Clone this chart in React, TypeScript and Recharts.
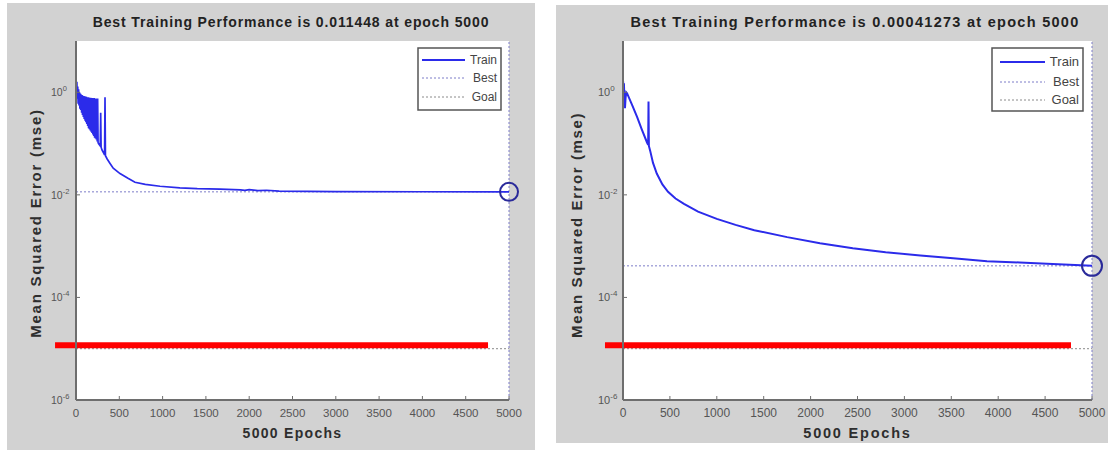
import React from 'react';
import { LineChart, Line, XAxis, YAxis, CartesianGrid, ReferenceLine, ReferenceDot, Legend, Label } from 'recharts';

// ---------- data ----------
const xTicks = [0, 500, 1000, 1500, 2000, 2500, 3000, 3500, 4000, 4500, 5000];
const yTicks = [1e-6, 1e-4, 1e-2, 1];
const legendNames = ['Train', 'Best', 'Goal'];
const xLabel = '5000 Epochs';
const yLabel = 'Mean Squared Error  (mse)';

const leftTitle = 'Best Training Performance is 0.011448 at epoch 5000';
const rightTitle = 'Best Training Performance is 0.00041273 at epoch 5000';

const leftEpochs = [
  0, 5, 10, 15, 20, 25, 30, 35, 40, 45, 50, 55, 60, 65, 70, 75, 80, 85, 90, 95,
  100, 105, 110, 115, 120, 125, 130, 135, 140, 145, 150, 155, 160, 165, 170, 175, 180, 185, 190, 195,
  200, 205, 210, 215, 220, 225, 230, 235, 240, 245, 250, 255, 260, 270, 280, 285, 290, 300, 310, 320,
  330, 335, 340, 360, 393, 430, 508, 600, 681, 800, 970, 1200, 1400, 1663, 1900, 1950, 2000, 2100,
  2200, 2345, 3000, 4000, 5000,
];
const leftMse = [
  1.87, 1.2, 1.6, 0.75, 1.3, 0.6, 1.15, 0.55, 1.0, 0.48, 0.95, 0.45, 0.9, 0.4, 0.88, 0.36, 0.86, 0.33, 0.85, 0.3,
  0.84, 0.28, 0.83, 0.26, 0.82, 0.24, 0.8, 0.22, 0.8, 0.2, 0.79, 0.19, 0.6, 0.18, 0.78, 0.17, 0.5, 0.16, 0.77, 0.15,
  0.45, 0.14, 0.77, 0.13, 0.4, 0.125, 0.76, 0.12, 0.35, 0.11, 0.76, 0.105, 0.1, 0.095, 0.09, 0.4, 0.085, 0.075, 0.07, 0.065,
  0.06, 0.8, 0.058, 0.05, 0.041, 0.033, 0.026, 0.021, 0.0176, 0.016, 0.0147, 0.0137, 0.0132, 0.0129, 0.0125, 0.0122, 0.0126, 0.0121,
  0.0123, 0.0118, 0.01155, 0.0115, 0.011448,
];

const rightEpochs = [
  0, 5, 10, 15, 21, 28, 35, 43, 100, 150, 200, 256, 268, 272, 276, 290, 320, 360, 420, 480,
  560, 650, 800, 1000, 1200, 1400, 1750, 2100, 2450, 2800, 3170, 3520, 3880, 4230, 4580, 5000,
];
const rightMse = [
  1.71, 1.3, 1.5, 0.7, 0.49, 0.8, 1.0, 0.96, 0.55, 0.33, 0.19, 0.105, 0.095, 0.66, 0.09, 0.072, 0.042, 0.026, 0.016, 0.0115,
  0.0085, 0.0067, 0.0047, 0.0034, 0.0026, 0.00205, 0.0015, 0.00114, 0.00091, 0.00076, 0.00066, 0.00058, 0.00051, 0.00048, 0.00045, 0.00041273,
];

const leftBest = 0.011448;
const rightBest = 0.00041273;
const bestEpoch = 5000;
const goal = 1e-5;

// red annotation bars (epoch start, epoch end) and their level
const leftRedBar = [-242, 4758];
const rightRedBar = [-192, 4776];
const redBarLevel = 1.17e-5;

const leftData = leftEpochs.map((e, i) => ({ epoch: e, mse: leftMse[i] }));
const rightData = rightEpochs.map((e, i) => ({ epoch: e, mse: rightMse[i] }));

// ---------- styles ----------
const FONT = '"Liberation Sans", Arial, Helvetica, sans-serif';
const GRAY_BG = '#d2d2d2';
const TRAIN = '#2b2bea';
const BEST = '#7c7cc8';
const GOALC = '#8a8a8a';
const AXIS = '#6e6e6e';
const TEXT = '#2e2e2e';

type Geo = {
  left: number; top: number; width: number; height: number;
  margin: { top: number; right: number; bottom: number; left: number };
  yAxisWidth: number; xAxisHeight: number;
  tickFont: number; lineWidth: number;
  titleFont: number; titleLs: number; titleX: number; titleY: number;
  xLabelFont: number; xLabelLs: number; xLabelDy: number;
  yLabelFont: number; yLabelLs: number; yLabelX: number; yLabelY: number;
  legend: { left: number; top: number; w: number; h: number; rows: number[]; lx1: number; lx2: number; tx: number; font: number };
  circleR: number;
};

const YTick = (props: any) => {
  const { x, y, payload, font } = props;
  const exp = Math.round(Math.log10(payload.value));
  return (
    <g>
      <line x1={x} x2={x + 4} y1={y} y2={y} stroke={AXIS} strokeWidth={1} />
      <text x={x - 25} y={y + 4} fontFamily={FONT} fontSize={font - 1} fill="#555" textAnchor="start">
        10<tspan dy={-5} fontSize={font - 4}>{exp}</tspan>
      </text>
    </g>
  );
};

const XTick = (props: any) => {
  const { x, y, payload, font } = props;
  return (
    <g>
      <line x1={x} x2={x} y1={y} y2={y - 4} stroke={AXIS} strokeWidth={1} />
      <text x={x} y={y + 17} fontFamily={FONT} fontSize={font} fill="#555" textAnchor="middle">
        {payload.value}
      </text>
    </g>
  );
};

const LegendBox = ({ g }: { g: Geo['legend'] }) => (
  <svg width={g.w} height={g.h} style={{ display: 'block' }}>
    <rect x={1} y={1} width={g.w - 2} height={g.h - 2} fill="#fff" stroke="#555" strokeWidth={1.5} />
    {legendNames.map((n, i) => (
      <g key={n}>
        <line
          x1={g.lx1} x2={g.lx2} y1={g.rows[i]} y2={g.rows[i]}
          stroke={i === 0 ? TRAIN : i === 1 ? BEST : GOALC}
          strokeWidth={i === 0 ? 2 : 1}
          strokeDasharray={i === 0 ? undefined : '2 2'}
        />
        <text x={g.tx} y={g.rows[i] + 4} fontFamily={FONT} fontSize={g.font} fill="#444" textAnchor="end">{n}</text>
      </g>
    ))}
  </svg>
);

const Panel = ({ geo, data, best, title, redBar }: { geo: Geo; data: any[]; best: number; title: string; redBar: number[] }) => (
  <div style={{ position: 'absolute', left: geo.left, top: geo.top, width: geo.width, height: geo.height, background: GRAY_BG }}>
    <div
      style={{
        position: 'absolute', left: geo.titleX - 300, width: 600, top: geo.titleY - 9, textAlign: 'center',
        fontFamily: FONT, fontWeight: 'bold', fontSize: geo.titleFont, letterSpacing: geo.titleLs,
        color: '#222', lineHeight: '18px', whiteSpace: 'nowrap',
      }}
    >
      {title}
    </div>
    <LineChart width={geo.width} height={geo.height} data={data} margin={geo.margin} style={{ position: 'absolute', left: 0, top: 0 }}>
      <CartesianGrid horizontal={false} vertical={false} fill="#ffffff" stroke="none" />
      <XAxis
        type="number" dataKey="epoch" domain={[0, 5000]} ticks={xTicks} height={geo.xAxisHeight}
        tickSize={0} tickMargin={0} tickLine={false} interval={0}
        axisLine={{ stroke: AXIS, strokeWidth: 2 }}
        tick={(p: any) => <XTick {...p} font={geo.tickFont} />}
      >
        <Label
          content={(p: any) => {
            const vb = p.viewBox;
            return (
              <text
                x={vb.x + vb.width / 2} y={vb.y + geo.xLabelDy} textAnchor="middle"
                fontFamily={FONT} fontWeight="bold" fontSize={geo.xLabelFont} letterSpacing={geo.xLabelLs} fill={TEXT}
              >
                {xLabel}
              </text>
            );
          }}
        />
      </XAxis>
      <YAxis
        type="number" scale="log" domain={[1e-6, 10]} ticks={yTicks} allowDataOverflow width={geo.yAxisWidth}
        tickSize={0} tickMargin={0} tickLine={false} interval={0}
        axisLine={{ stroke: AXIS, strokeWidth: 2 }}
        tick={(p: any) => <YTick {...p} font={geo.tickFont} />}
      >
        <Label
          content={() => (
            <text
              x={geo.yLabelX} y={geo.yLabelY} textAnchor="middle" dominantBaseline="central"
              transform={`rotate(-90 ${geo.yLabelX} ${geo.yLabelY})`}
              fontFamily={FONT} fontWeight="bold" fontSize={geo.yLabelFont} letterSpacing={geo.yLabelLs} fill={TEXT}
            >
              {yLabel}
            </text>
          )}
        />
      </YAxis>
      <ReferenceLine y={best} stroke={BEST} strokeDasharray="2 2" strokeWidth={1} />
      <ReferenceLine y={goal} stroke={GOALC} strokeDasharray="2 2" strokeWidth={1} />
      <ReferenceLine x={bestEpoch} stroke={BEST} strokeDasharray="2 2" strokeWidth={1} />
      <Line type="linear" dataKey="mse" stroke={TRAIN} strokeWidth={geo.lineWidth} dot={false} isAnimationActive={false} />
      <ReferenceDot x={bestEpoch} y={best} r={geo.circleR} fill="none" stroke="#2a2a9a" strokeWidth={2} ifOverflow="visible" />
      <ReferenceLine
        segment={[{ x: redBar[0], y: redBarLevel }, { x: redBar[1], y: redBarLevel }]}
        stroke="#ff0000" strokeWidth={6} ifOverflow="visible"
      />
      <Legend
        layout="horizontal" verticalAlign="middle" align="center"
        wrapperStyle={{ left: geo.legend.left, top: geo.legend.top, width: geo.legend.w, height: geo.legend.h, margin: 0 }}
        content={() => <LegendBox g={geo.legend} />}
      />
    </LineChart>
  </div>
);

const leftGeo: Geo = {
  left: 7, top: 3, width: 528, height: 447,
  margin: { top: 38, right: 26, bottom: 0, left: 0 },
  yAxisWidth: 69, xAxisHeight: 50,
  tickFont: 11.5, lineWidth: 1.7,
  titleFont: 14, titleLs: 0.88, titleX: 284, titleY: 19,
  xLabelFont: 14, xLabelLs: 1.3, xLabelDy: 38,
  yLabelFont: 15, yLabelLs: 1.75, yLabelX: 28, yLabelY: 220,
  legend: { left: 410, top: 44, w: 85, h: 64, rows: [13, 31, 50], lx1: 5, lx2: 48, tx: 80, font: 12 },
  circleR: 9,
};

const rightGeo: Geo = {
  left: 556, top: 5, width: 552, height: 438,
  margin: { top: 36, right: 16, bottom: 0, left: 0 },
  yAxisWidth: 67, xAxisHeight: 43,
  tickFont: 12, lineWidth: 2,
  titleFont: 14.5, titleLs: 1.28, titleX: 299, titleY: 17,
  xLabelFont: 14.5, xLabelLs: 1.8, xLabelDy: 38,
  yLabelFont: 15, yLabelLs: 1.6, yLabelX: 20, yLabelY: 220,
  legend: { left: 435, top: 42, w: 93, h: 65, rows: [15, 35, 53], lx1: 9, lx2: 54, tx: 88, font: 13 },
  circleR: 10,
};

export default function App() {
  return (
    <div style={{ position: 'absolute', left: 0, top: 0, width: 1108, height: 450, background: '#ffffff', overflow: 'hidden' }}>
      <Panel geo={leftGeo} data={leftData} best={leftBest} title={leftTitle} redBar={leftRedBar} />
      <Panel geo={rightGeo} data={rightData} best={rightBest} title={rightTitle} redBar={rightRedBar} />
    </div>
  );
}
